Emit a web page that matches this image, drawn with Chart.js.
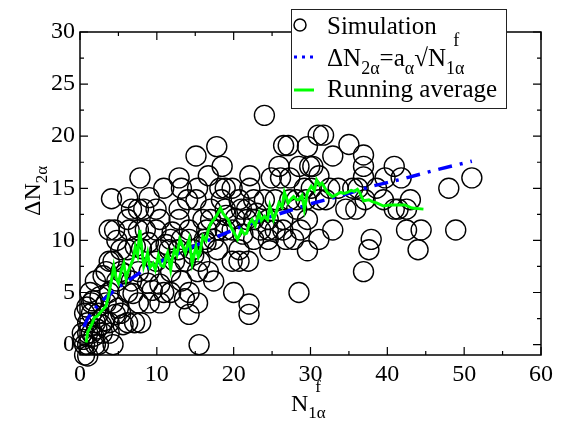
<!DOCTYPE html>
<html>
<head>
<meta charset="utf-8">
<script src="https://cdn.jsdelivr.net/npm/chart.js@4/dist/chart.umd.min.js"></script>
<style>
  html, body { margin: 0; padding: 0; background: #fff; }
  #wrap { width: 567px; height: 423px; }
</style>
</head>
<body>
<div id="wrap"><canvas id="fit-chart" width="567" height="423"></canvas></div>
<script>
// --- Data ---
const simX = [
  24.0, 17.8, 18.5, 15.1, 7.8, 31.7, 31.0, 35.0, 26.5, 27.1, 29.6, 36.9, 32.9, 36.9, 40.9, 36.9,
  28.5, 29.9, 30.3, 25.9, 24.9, 26.1, 27.3, 51.0, 48.0, 39.7, 41.8, 43.0, 39.5, 42.5, 40.9, 35.5,
  36.2, 34.6, 42.5, 44.4, 48.9, 44.0, 37.9, 37.6, 36.9, 32.9, 31.1, 29.6, 28.5, 27.8, 24.7, 22.0,
  22.0, 20.0, 15.5, 14.2, 15.3, 17.4, 16.7, 19.8, 20.7, 21.9, 20.7, 19.8, 22.1, 22.1, 12.9, 13.2,
  10.9, 9.0, 6.2, 4.1, 14.0, 15.3, 16.7, 18.4, 6.7, 7.6, 9.9, 8.3, 12.9, 17.0, 18.9, 21.0,
  21.7, 6.2, 12.9, 6.4, 3.8, 4.5, 7.6, 8.5, 11.8, 13.2, 14.2, 16.0, 17.4, 17.9, 18.9, 19.8,
  22.6, 23.5, 24.5, 25.4, 26.4, 22.6, 24.5, 26.4, 28.2, 29.4, 31.1, 32.0, 32.5, 31.1, 29.6, 28.7,
  6.2, 5.3, 3.8, 4.3, 10.4, 9.9, 9.0, 7.6, 3.4, 5.3, 6.7, 4.8, 2.0, 8.8, 10.4, 11.8,
  13.2, 14.2, 11.8, 10.4, 9.0, 7.6, 6.2, 3.8, 3.4, 4.3, 1.5, 5.3, 6.2, 7.1, 7.9, 3.8,
  2.9, 3.8, 4.3, 1.0, 0.3, 0.6, 1.0, 2.0, 2.4, 0.6, 1.0, 1.5, 2.0, 1.0, 1.5, 2.4,
  1.3, 0.6, 9.9, 10.9, 14.2, 14.7, 15.6, 15.3, 13.7, 12.3, 11.6, 12.8, 16.2, 16.5, 17.0, 20.7,
  18.2, 18.9, 15.1, 10.4, 17.9, 22.6, 24.0, 25.4, 27.3, 21.7, 24.5, 26.8, 37.1, 35.9, 38.6, 33.6,
  30.1, 29.2, 28.2, 41.4, 0.4, 1.8, 2.8, 5.0, 5.8, 8.0, 9.4, 11.2, 12.0, 13.6, 14.8, 16.4,
  19.0, 20.2, 21.2, 23.0, 3.0, 4.8, 7.2, 2.6, 0.9, 1.7, 4.6, 5.6, 6.9, 8.9, 2.2, 3.2
];
const simY = [
  22.0, 19.0, 17.1, 18.1, 16.0, 20.1, 20.1, 19.2, 19.1, 19.1, 19.0, 18.2, 18.1, 17.1, 17.1, 16.1,
  17.1, 17.1, 17.1, 17.1, 16.0, 16.0, 16.0, 16.0, 15.0, 16.0, 16.0, 13.9, 13.9, 13.0, 13.0, 15.0,
  15.0, 13.0, 11.0, 11.0, 11.0, 9.1, 10.1, 9.1, 7.0, 11.0, 10.1, 9.0, 5.0, 10.1, 9.0, 3.9,
  2.9, 5.0, 0.0, 2.9, 4.0, 6.1, 7.0, 8.0, 8.0, 8.0, 9.1, 15.0, 16.2, 15.0, 16.0, 15.0,
  15.0, 14.1, 14.1, 14.0, 13.9, 15.0, 16.2, 13.9, 13.0, 13.0, 13.0, 13.0, 13.0, 13.0, 13.0, 13.0,
  13.0, 12.0, 12.0, 11.0, 11.0, 11.0, 11.0, 11.0, 10.1, 10.1, 10.1, 12.0, 10.1, 11.0, 11.0, 11.0,
  10.1, 11.0, 11.0, 11.0, 11.0, 12.0, 12.0, 12.0, 13.0, 13.9, 13.9, 13.9, 15.0, 16.2, 12.0, 11.0,
  9.1, 9.1, 8.0, 8.0, 9.1, 8.0, 7.0, 7.0, 7.0, 7.0, 6.1, 6.1, 6.1, 5.9, 5.8, 7.0,
  6.1, 5.0, 5.0, 4.0, 4.0, 4.0, 5.0, 5.0, 4.0, 4.0, 4.0, 3.0, 2.1, 2.1, 2.1, 2.1,
  1.1, 1.1, 0.0, 1.1, 1.1, 0.0, 0.0, 0.0, 0.0, -1.0, -1.1, 1.1, 2.1, 2.1, 3.0, 3.0,
  5.0, 3.0, 11.0, 5.0, 11.0, 9.1, 8.0, 7.0, 8.0, 8.0, 9.1, 9.1, 10.1, 11.0, 12.0, 13.9,
  15.0, 15.0, 13.9, 12.0, 9.1, 13.9, 13.9, 13.9, 13.9, 12.0, 10.1, 10.1, 13.9, 13.0, 15.0, 15.0,
  15.0, 15.0, 13.9, 13.0, 0.5, 0.8, 1.9, 3.5, 6.8, 9.2, 5.2, 9.6, 10.8, 4.4, 8.6, 9.8,
  12.4, 12.1, 10.6, 12.6, 6.6, 10.0, 9.4, 4.6, 3.6, 4.2, 2.9, 1.9, 4.9, 9.8, 1.5, 2.3
];

const avgX = [
  0.8, 1.0, 1.5, 1.9, 2.2, 2.8, 3.4, 3.8, 4.2, 4.4, 4.7, 5.0, 5.4, 5.7, 6.0, 6.2, 6.6, 6.9,
  7.2, 7.5, 7.8, 8.1, 8.3, 8.6, 8.8, 9.1, 9.5, 9.8, 10.2, 10.5, 10.9, 11.2, 11.4, 11.8, 12.0,
  12.3, 12.6, 13.0, 13.4, 13.7, 14.0, 14.2, 14.6, 15.1, 15.4, 15.6, 16.0, 16.4, 16.7, 17.0,
  17.4, 17.8, 18.3, 18.6, 18.9, 19.3, 19.6, 20.0, 20.5, 20.8, 21.0, 21.4, 21.7, 22.0, 22.4,
  22.8, 23.3, 23.6, 24.0, 24.4, 24.7, 25.2, 25.5, 25.9, 26.3, 26.6, 27.1, 27.5, 27.8, 28.2,
  28.5, 28.9, 29.2, 29.6, 30.1, 30.5, 30.8, 31.2, 31.5, 32.2, 32.9, 33.4, 33.9, 34.4, 34.8,
  35.3, 35.7, 36.1, 36.4, 36.9, 37.6, 38.1, 38.6, 39.5, 40.2, 41.1, 42.3, 43.2, 44.7
];
const avgY = [
  0.2, 1.2, 1.9, 2.6, 2.7, 3.2, 3.7, 5.0, 6.6, 7.5, 6.4, 5.9, 7.2, 7.8, 6.3, 6.9, 7.6, 8.2,
  9.4, 8.6, 11.0, 8.8, 7.5, 8.2, 8.8, 7.4, 7.8, 7.2, 8.5, 7.6, 7.5, 8.4, 8.8, 7.2, 8.2,
  9.1, 8.6, 10.1, 9.4, 8.8, 9.6, 10.1, 7.8, 9.4, 8.4, 8.8, 10.4, 10.0, 11.0, 11.6,
  12.0, 12.4, 13.1, 12.6, 12.3, 12.0, 11.4, 10.8, 10.1, 10.6, 11.0, 10.6, 10.7, 11.6, 12.0,
  11.4, 12.6, 11.9, 12.3, 12.0, 13.3, 12.0, 12.6, 13.6, 13.2, 14.6, 13.6, 14.0, 14.2, 13.9,
  13.9, 14.3, 13.0, 14.6, 15.2, 14.8, 15.8, 15.3, 15.5, 14.6, 14.2, 14.4, 14.6, 14.5, 14.6,
  14.8, 14.7, 14.9, 14.6, 13.8, 13.9, 13.7, 13.6, 13.3, 13.4, 13.4, 13.4, 13.1, 13.0
];

const fitX = [0.5, 1.0, 1.5, 2, 3, 4, 5, 6, 8, 10, 12, 15, 18, 21, 24, 27, 30, 34, 38, 42, 46, 51];
const fitY = [1.7, 2.5, 3.0, 3.5, 4.3, 4.9, 5.5, 6.0, 7.0, 7.8, 8.5, 9.5, 10.4, 11.3, 12.1, 12.8,
  13.5, 14.3, 15.2, 15.9, 16.7, 17.6];

const xTicks = [0, 10, 20, 30, 40, 50, 60];
const yTicks = [0, 5, 10, 15, 20, 25, 30];

const FONT = '"Liberation Serif", "Times New Roman", Times, "DejaVu Serif", serif';

function buildChart() {

    const pairs = (xs, ys) => xs.map((x, i) => ({ x: x, y: ys[i] }));

    // draws text runs with sub / superscripts
    function drawRich(ctx, x, y, runs, size) {
        let cx = x;
        let subStart = x, subWidth = 0;
        runs.forEach(r => {
            if (r.sup) {
                ctx.font = Math.round(size * 0.72) + 'px ' + FONT;
                ctx.fillText(r.t, subStart + subWidth * 0.4, y - size * 0.8);
                return;
            }
            ctx.font = (r.sub ? Math.round(size * 0.72) : size) + 'px ' + FONT;
            const w = ctx.measureText(r.t).width;
            ctx.fillText(r.t, cx, y + (r.sub ? size * 0.3 : 0));
            if (r.sub) { subStart = cx; subWidth = w; }
            cx += w;
        });
        return cx;
    }

    // --- Frame, inward ticks, axis titles and legend ---
    const decorations = {
        id: 'decorations',
        beforeDatasetsDraw(chart) {
            const { ctx, chartArea: a, scales } = chart;
            const xs = scales.x, ys = scales.y;
            ctx.save();
            ctx.strokeStyle = '#000';
            ctx.lineWidth = 1.5;
            ctx.strokeRect(a.left, a.top, a.right - a.left, a.bottom - a.top);
            ctx.lineWidth = 1.2;
            ctx.beginPath();
            for (let v = 0; v <= 60; v += 5) {
                const len = v % 10 === 0 ? 8 : 4;
                const px = xs.getPixelForValue(v);
                ctx.moveTo(px, a.bottom); ctx.lineTo(px, a.bottom - len);
                ctx.moveTo(px, a.top); ctx.lineTo(px, a.top + len);
            }
            for (let v = 0; v <= 30; v += 2.5) {
                const len = v % 5 === 0 ? 8 : 4;
                const py = ys.getPixelForValue(v);
                ctx.moveTo(a.left, py); ctx.lineTo(a.left + len, py);
                ctx.moveTo(a.right, py); ctx.lineTo(a.right - len, py);
            }
            ctx.stroke();
            ctx.restore();
        },
        afterDraw(chart) {
            const { ctx } = chart;
            ctx.save();
            ctx.fillStyle = '#000';
            ctx.textBaseline = 'alphabetic';

            // x title
            drawRich(ctx, 291, 411, [{ t: 'N' }, { t: '1α', sub: true }, { t: 'f', sup: true }], 24);

            // y title (rotated)
            ctx.save();
            ctx.translate(40, 216);
            ctx.rotate(-Math.PI / 2);
            drawRich(ctx, 0, 0, [{ t: 'ΔN' }, { t: '2α', sub: true }], 24);
            ctx.restore();

            // legend box
            ctx.fillStyle = '#fff';
            ctx.fillRect(291, 9, 215, 99);
            ctx.strokeStyle = '#222';
            ctx.lineWidth = 1;
            ctx.strokeRect(291.5, 9.5, 215, 99);

            ctx.strokeStyle = '#000';
            ctx.lineWidth = 1.5;
            ctx.beginPath();
            ctx.arc(300, 25, 6, 0, Math.PI * 2);
            ctx.stroke();

            ctx.strokeStyle = '#0000ff';
            ctx.lineWidth = 3;
            ctx.setLineDash([3, 5]);
            ctx.beginPath();
            ctx.moveTo(294, 57); ctx.lineTo(314, 57);
            ctx.stroke();
            ctx.setLineDash([]);

            ctx.strokeStyle = '#00ff00';
            ctx.lineWidth = 3;
            ctx.beginPath();
            ctx.moveTo(294, 90); ctx.lineTo(314, 90);
            ctx.stroke();

            ctx.fillStyle = '#000';
            ctx.font = '25px ' + FONT;
            ctx.fillText('Simulation', 327, 34);
            drawRich(ctx, 327, 66, [
                { t: 'ΔN' }, { t: '2α', sub: true }, { t: '=a' }, { t: 'α', sub: true },
                { t: '√N' }, { t: '1α', sub: true }, { t: 'f', sup: true }
            ], 25);
            ctx.font = '25px ' + FONT;
            ctx.fillText('Running average', 327, 97);
            ctx.restore();
        }
    };

    const canvas = document.getElementById('fit-chart');
    const chart = new Chart(canvas, {
        type: 'scatter',
        data: {
            datasets: [
                {
                    label: 'Simulation',
                    order: 3,
                    data: pairs(simX, simY),
                    pointStyle: 'circle',
                    pointRadius: 10,
                    pointBorderWidth: 1.4,
                    borderColor: '#000',
                    backgroundColor: 'rgba(0,0,0,0)',
                    clip: false
                },
                {
                    label: 'fit',
                    order: 2,
                    type: 'line',
                    data: pairs(fitX, fitY),
                    borderColor: '#0000ff',
                    borderWidth: 3.5,
                    borderDash: [14, 8, 3, 8],
                    pointRadius: 0,
                    tension: 0,
                    fill: false
                },
                {
                    label: 'Running average',
                    order: 1,
                    type: 'line',
                    data: pairs(avgX, avgY),
                    borderColor: '#00ff00',
                    borderWidth: 3,
                    pointRadius: 0,
                    tension: 0,
                    fill: false
                }
            ]
        },
        options: {
            responsive: false,
            animation: false,
            devicePixelRatio: 1,
            layout: { padding: { top: 32, right: 26, left: 0, bottom: 0 } },
            plugins: {
                legend: { display: false },
                tooltip: { enabled: false }
            },
            scales: {
                x: {
                    type: 'linear',
                    min: 0, max: 60,
                    afterBuildTicks: s => { s.ticks = xTicks.map(v => ({ value: v })); },
                    afterFit: s => { s.height = 68; },
                    grid: { display: false, drawTicks: false },
                    border: { display: false },
                    ticks: { color: '#000', padding: 5, maxRotation: 0, font: { family: FONT, size: 24 } }
                },
                y: {
                    type: 'linear',
                    min: -1, max: 30,
                    afterBuildTicks: s => { s.ticks = yTicks.map(v => ({ value: v })); },
                    afterFit: s => { s.width = 80; },
                    grid: { display: false, drawTicks: false },
                    border: { display: false },
                    ticks: { color: '#000', padding: 5, font: { family: FONT, size: 24 } }
                }
            }
        },
        plugins: [decorations]
    });
    // redraw once more in case the font arrived late
    setTimeout(() => chart.update(), 150);
}

document.addEventListener('DOMContentLoaded', () => {
    const wait = document.fonts && document.fonts.load
        ? document.fonts.load('24px "Liberation Serif"', 'Simulation ΔNα√').catch(() => null)
        : Promise.resolve();
    wait.then(buildChart, buildChart);
});
</script>
</body>
</html>
